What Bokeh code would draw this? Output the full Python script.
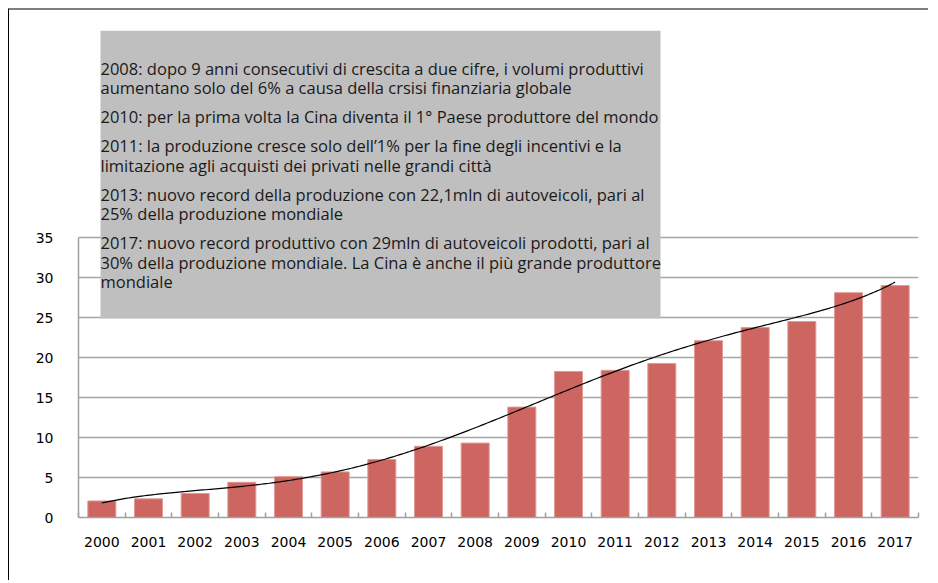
import numpy as np
from bokeh.plotting import figure
from bokeh.models import Range1d, FixedTicker, BoxAnnotation, Label
from bokeh.embed import file_html
from bokeh.resources import INLINE

# ---- data ----
years = ["2000", "2001", "2002", "2003", "2004", "2005", "2006", "2007", "2008",
         "2009", "2010", "2011", "2012", "2013", "2014", "2015", "2016", "2017"]
production = [2.07, 2.33, 3.0, 4.4, 5.1, 5.7, 7.25, 8.9, 9.3,
              13.8, 18.25, 18.4, 19.25, 22.1, 23.75, 24.5, 28.1, 29.0]
y_ticks = [0, 5, 10, 15, 20, 25, 30, 35]
notes = [
    ["2008: dopo 9 anni consecutivi di crescita a due cifre, i volumi produttivi",
     "aumentano solo del 6% a causa della crsisi finanziaria globale"],
    ["2010: per la prima volta la Cina diventa il 1° Paese produttore del mondo"],
    ["2011: la produzione cresce solo dell\u20191% per la fine degli incentivi e la",
     "limitazione agli acquisti dei privati nelle grandi città"],
    ["2013: nuovo record della produzione con 22,1mln di autoveicoli, pari al",
     "25% della produzione mondiale"],
    ["2017: nuovo record produttivo con 29mln di autoveicoli prodotti, pari al",
     "30% della produzione mondiale. La Cina è anche il più grande produttore",
     "mondiale"],
]

# ---- layout constants (page pixels) ----
W, H = 920, 572
CX0, CY0 = 9, 10           # canvas origin on page (margin + border)
FL, FR = 78, 918           # frame left/right on page
FT, FB = 30, 517           # frame top/bottom on page
PX_PER_UNIT = 8.0
n = len(years)
unit_x = (FR - FL) / n

def px_x(px):
    return (px - FL) / unit_x

def px_y(py):
    return (FB - py) / PX_PER_UNIT

p = figure(width=W, height=H,
           x_range=Range1d(0, n), y_range=Range1d(0, (FB - FT) / PX_PER_UNIT),
           output_backend="svg", toolbar_location=None,
           min_border_left=FL - CX0, min_border_right=CX0 + W - FR,
           min_border_top=FT - CY0, min_border_bottom=CY0 + H - FB)
p.styles = {"margin-left": "8px", "margin-top": "8px",
            "border-top": "2px solid #7f7f7f", "border-left": "1px solid #000000"}
p.outline_line_color = None
p.background_fill_color = "white"
p.border_fill_color = "white"

xs = [i + 0.5 for i in range(n)]

# grid
p.xgrid.visible = False
p.ygrid.ticker = FixedTicker(ticks=y_ticks)
p.ygrid.grid_line_color = "#a6a6a6"
p.ygrid.grid_line_width = 1.5

# bars
p.vbar(x=xs, top=production, bottom=0, width=0.6,
       fill_color="#cd6660", line_color="#e09a95", line_width=1)

# polynomial trendline (order 6, like the spreadsheet trendline)
t = np.arange(1, n + 1)
coef = np.polyfit(t, production, 6)
tt = np.linspace(1, n, 300)
p.line(x=tt - 0.5, y=np.polyval(coef, tt), line_color="black", line_width=1.2)

# axes
p.yaxis.ticker = FixedTicker(ticks=y_ticks)
p.yaxis.bounds = (0, 35)
p.yaxis.axis_line_color = "#a0a0a0"
p.yaxis.axis_line_width = 1.5
p.yaxis.major_tick_line_color = None
p.yaxis.minor_tick_line_color = None
p.yaxis.major_label_standoff = 19
p.yaxis.major_label_text_font = "DejaVu Sans"
p.yaxis.major_label_text_font_size = "14px"
p.yaxis.major_label_text_color = "#000000"

p.xaxis.ticker = FixedTicker(ticks=xs, minor_ticks=list(range(n + 1)))
p.xaxis.major_label_overrides = {x: y for x, y in zip(xs, years)}
p.xaxis.axis_line_color = "#a0a0a0"
p.xaxis.axis_line_width = 1.5
p.xaxis.major_tick_in = 0
p.xaxis.major_tick_out = 0
p.xaxis.major_tick_line_color = None
p.xaxis.minor_tick_in = 5
p.xaxis.minor_tick_out = 0
p.xaxis.minor_tick_line_color = "#a0a0a0"
p.xaxis.minor_tick_line_width = 1.5
p.xaxis.major_label_standoff = 19
p.xaxis.major_label_text_font = "DejaVu Sans"
p.xaxis.major_label_text_font_size = "14px"
p.xaxis.major_label_text_color = "#000000"

# annotation box
BOX_L, BOX_R, BOX_T, BOX_B = 100, 660, 30, 318
p.add_layout(BoxAnnotation(left=px_x(BOX_L), right=px_x(BOX_R),
                           top=px_y(BOX_T), bottom=px_y(BOX_B),
                           fill_color="#bfbfbf", fill_alpha=1.0,
                           line_color=None))

line_y = 67.5
for pi, para in enumerate(notes):
    if pi > 0:
        line_y += 29.0
    for li, txt in enumerate(para):
        if li > 0:
            line_y += 19.5
        p.add_layout(Label(x=px_x(BOX_L), y=px_y(line_y), text=txt,
                           text_font="Open Sans", text_font_size="16.5px",
                           text_color="#1a1a1a", text_baseline="middle",
                           text_align="left"))

open("out.html", "w").write(file_html(p, INLINE))
